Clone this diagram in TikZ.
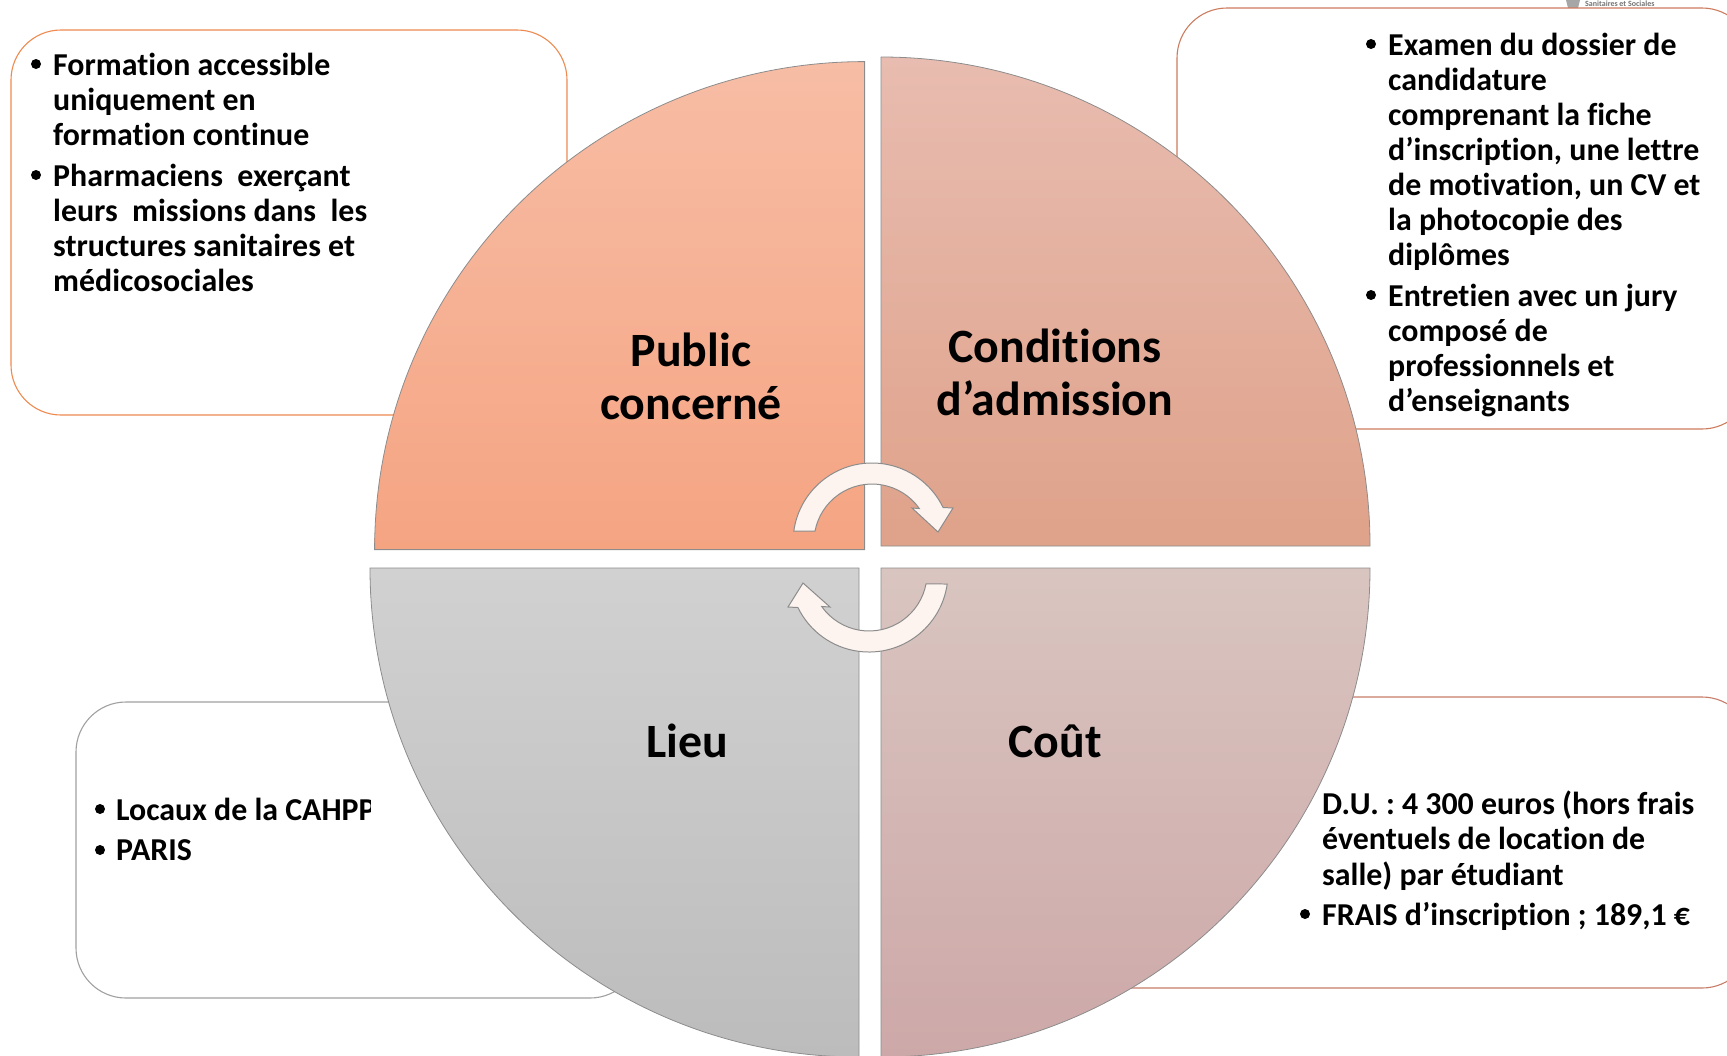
\documentclass[tikz,border=0pt]{standalone}
\usepackage{fontspec}
\setmainfont{Carlito}[BoldFont={Carlito Bold},Ligatures=NoCommon]
\frenchspacing
\definecolor{boxTL}{HTML}{EE8A50}
\definecolor{boxTR}{HTML}{CC7C5E}
\definecolor{boxBL}{HTML}{A0A0A0}
\definecolor{boxBR}{HTML}{C67C68}
\definecolor{edgeQ}{HTML}{8C8C8C}
\definecolor{turnfill}{HTML}{FDF4F0}
\definecolor{qTLa}{HTML}{F7BDA5}
\definecolor{qTLb}{HTML}{F5A482}
\definecolor{qTRa}{HTML}{E8BCB0}
\definecolor{qTRb}{HTML}{DFA28A}
\definecolor{qBLa}{HTML}{D1D1D1}
\definecolor{qBLb}{HTML}{BCBCBC}
\definecolor{qBRa}{HTML}{D9C5C0}
\definecolor{qBRb}{HTML}{CDA8A8}
\tikzset{
  infobox/.style={line width=1.1pt, fill=white, rounded corners=50bp},
  quad/.style={draw=edgeQ, line width=0.8pt},
  turn/.style={draw=edgeQ, line width=1pt, fill=turnfill, line join=miter},
  item/.style={anchor=north west, inner sep=0pt, align=left, font=\fontsize{32}{35.2}\selectfont\bfseries},
  dot/.style={circle, fill=black, inner sep=0pt, minimum size=10bp},
  title/.style={align=center, inner sep=0pt, font=\fontsize{48}{53}\selectfont\bfseries}
}
\begin{document}
\begin{tikzpicture}[x=1bp,y=1bp,yscale=-1]
\useasboundingbox (0,0) rectangle (1727,1055);
\clip (0,0) rectangle (1727,1055);
% logo fragment
\fill[black!35] (1566,0) -- (1580,0) -- (1578,8) -- (1573,11) -- (1568,8) -- cycle;
\node[anchor=west, inner sep=0pt, text=black!55, font=\fontsize{8}{8}\selectfont\bfseries] (logo) at (1585,4) {Sanitaires et Sociales};
% text boxes
\draw[infobox, draw=boxTL] (11,30) rectangle (567,415);
\draw[infobox, draw=boxTR] (1177,8) rectangle (1752,429);
\draw[infobox, draw=boxBL] (76,702) rectangle (640,998);
\draw[infobox, draw=boxBR] (900,697) rectangle (1752,988);
% quadrants
\path[quad, top color=qTLa, bottom color=qTLb] (864.6,549.6) -- (374.6,549.6) arc[start angle=180,end angle=270,x radius=490,y radius=488] -- cycle;
\path[quad, top color=qTRa, bottom color=qTRb] (881,546) -- (881,57) arc[start angle=270,end angle=360,radius=489] -- cycle;
\path[quad, top color=qBLa, bottom color=qBLb] (859,568) -- (859,1057) arc[start angle=90,end angle=180,radius=489] -- cycle;
\path[quad, top color=qBRa, bottom color=qBRb] (881,568) -- (1370,568) arc[start angle=0,end angle=90,radius=489] -- cycle;
% turning arrows
\draw[turn] (793.8,531) arc[start angle=188,end angle=334.1,radius=79] -- (953,508) -- (938,532) -- (912,508) -- (919.3,508.5) arc[start angle=324.7,end angle=190.9,radius=58] -- cycle;
\draw[turn] (947.2,584) arc[start angle=8,end angle=154.1,radius=79] -- (788,607) -- (803,583) -- (830,607) -- (821.7,606.5) arc[start angle=144.7,end angle=10.9,radius=58] -- cycle;
% quadrant titles
\node[title] (public) at (691,376) {Public\\concerné};
\node[title] (admission) at (1055,372) {Conditions\\d’admission};
\node[title] (lieu) at (687,741) {Lieu};
\node[title] (cout) at (1055,741) {Coût};
% top left text
\node[dot] (d1) at (36,64) {};
\node[item] (t1) at (53,53) {Formation accessible\\uniquement en\\formation continue};
\node[dot] (d2) at (36,175) {};
\node[item] (t2) at (53,164) {Pharmaciens\ \ exerçant\\leurs\ \ missions dans\ \ les\\structures sanitaires et\\médicosociales};
% top right text
\node[dot] (d3) at (1371,44) {};
\node[item] (t3) at (1388,33) {Examen du dossier de\\candidature\\comprenant la fiche\\d’inscription, une lettre\\de motivation, un CV et\\la photocopie des\\diplômes};
\node[dot] (d4) at (1371,295) {};
\node[item] (t4) at (1388,284) {Entretien avec un jury\\composé de\\professionnels et\\d’enseignants};
% bottom left text
\node[dot] (d5) at (100,809) {};
\begin{scope}
\clip (100,780) rectangle (370,830);
\node[item] (t5) at (116,798) {Locaux de la CAHPP};
\end{scope}
\node[dot] (d6) at (100,850) {};
\node[item] (t6) at (116,839) {PARIS};
% bottom right text
\node[item] (t7) at (1322,791) {D.U. : 4 300 euros (hors frais\\éventuels de location de\\salle) par étudiant};
\node[dot] (d8) at (1305,914) {};
\node[item] (t8) at (1322,902) {FRAIS d’inscription ; 189,1 €};
\end{tikzpicture}
\end{document}
